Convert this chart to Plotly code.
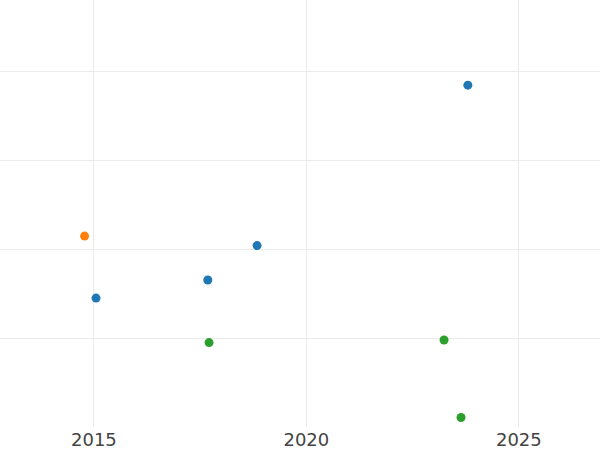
import plotly.graph_objects as go

# Series data (x = year, y = value)
blue_x = [2015.05, 2017.68, 2018.84, 2023.80]
blue_y = [1.449, 1.652, 2.039, 3.843]
orange_x = [2014.78]
orange_y = [2.146]
green_x = [2017.71, 2023.24, 2023.64]
green_y = [0.949, 0.978, 0.107]

x_ticks = [2015, 2020, 2025]
y_ticks = [1, 2, 3, 4]

fig = go.Figure()
for xs, ys, c in [(blue_x, blue_y, "#1f77b4"), (orange_x, orange_y, "#ff7f0e"), (green_x, green_y, "#2ca02c")]:
    fig.add_trace(go.Scatter(x=xs, y=ys, mode="markers",
                             marker=dict(color=c, size=9), showlegend=False))

fig.update_layout(
    width=600, height=450,
    margin=dict(l=0, r=0, t=0, b=23),
    plot_bgcolor="white", paper_bgcolor="white",
    font=dict(family="DejaVu Sans", size=18, color="#444"),
    showlegend=False,
)
fig.update_xaxes(range=[2012.79, 2026.91], tickvals=x_ticks, ticktext=[str(t) for t in x_ticks],
                 showgrid=True, gridcolor="#ebebeb", gridwidth=1, zeroline=False,
                 showline=False, ticks="", ticklabelstandoff=0)
fig.update_yaxes(range=[0, 4.8], tickvals=y_ticks, showticklabels=False,
                 showgrid=True, gridcolor="#ebebeb", gridwidth=1, zeroline=False,
                 showline=False, ticks="")

fig.write_html("out.html", config={"displayModeBar": False},
               post_script="document.body.style.margin='0';document.body.style.padding='0';")
